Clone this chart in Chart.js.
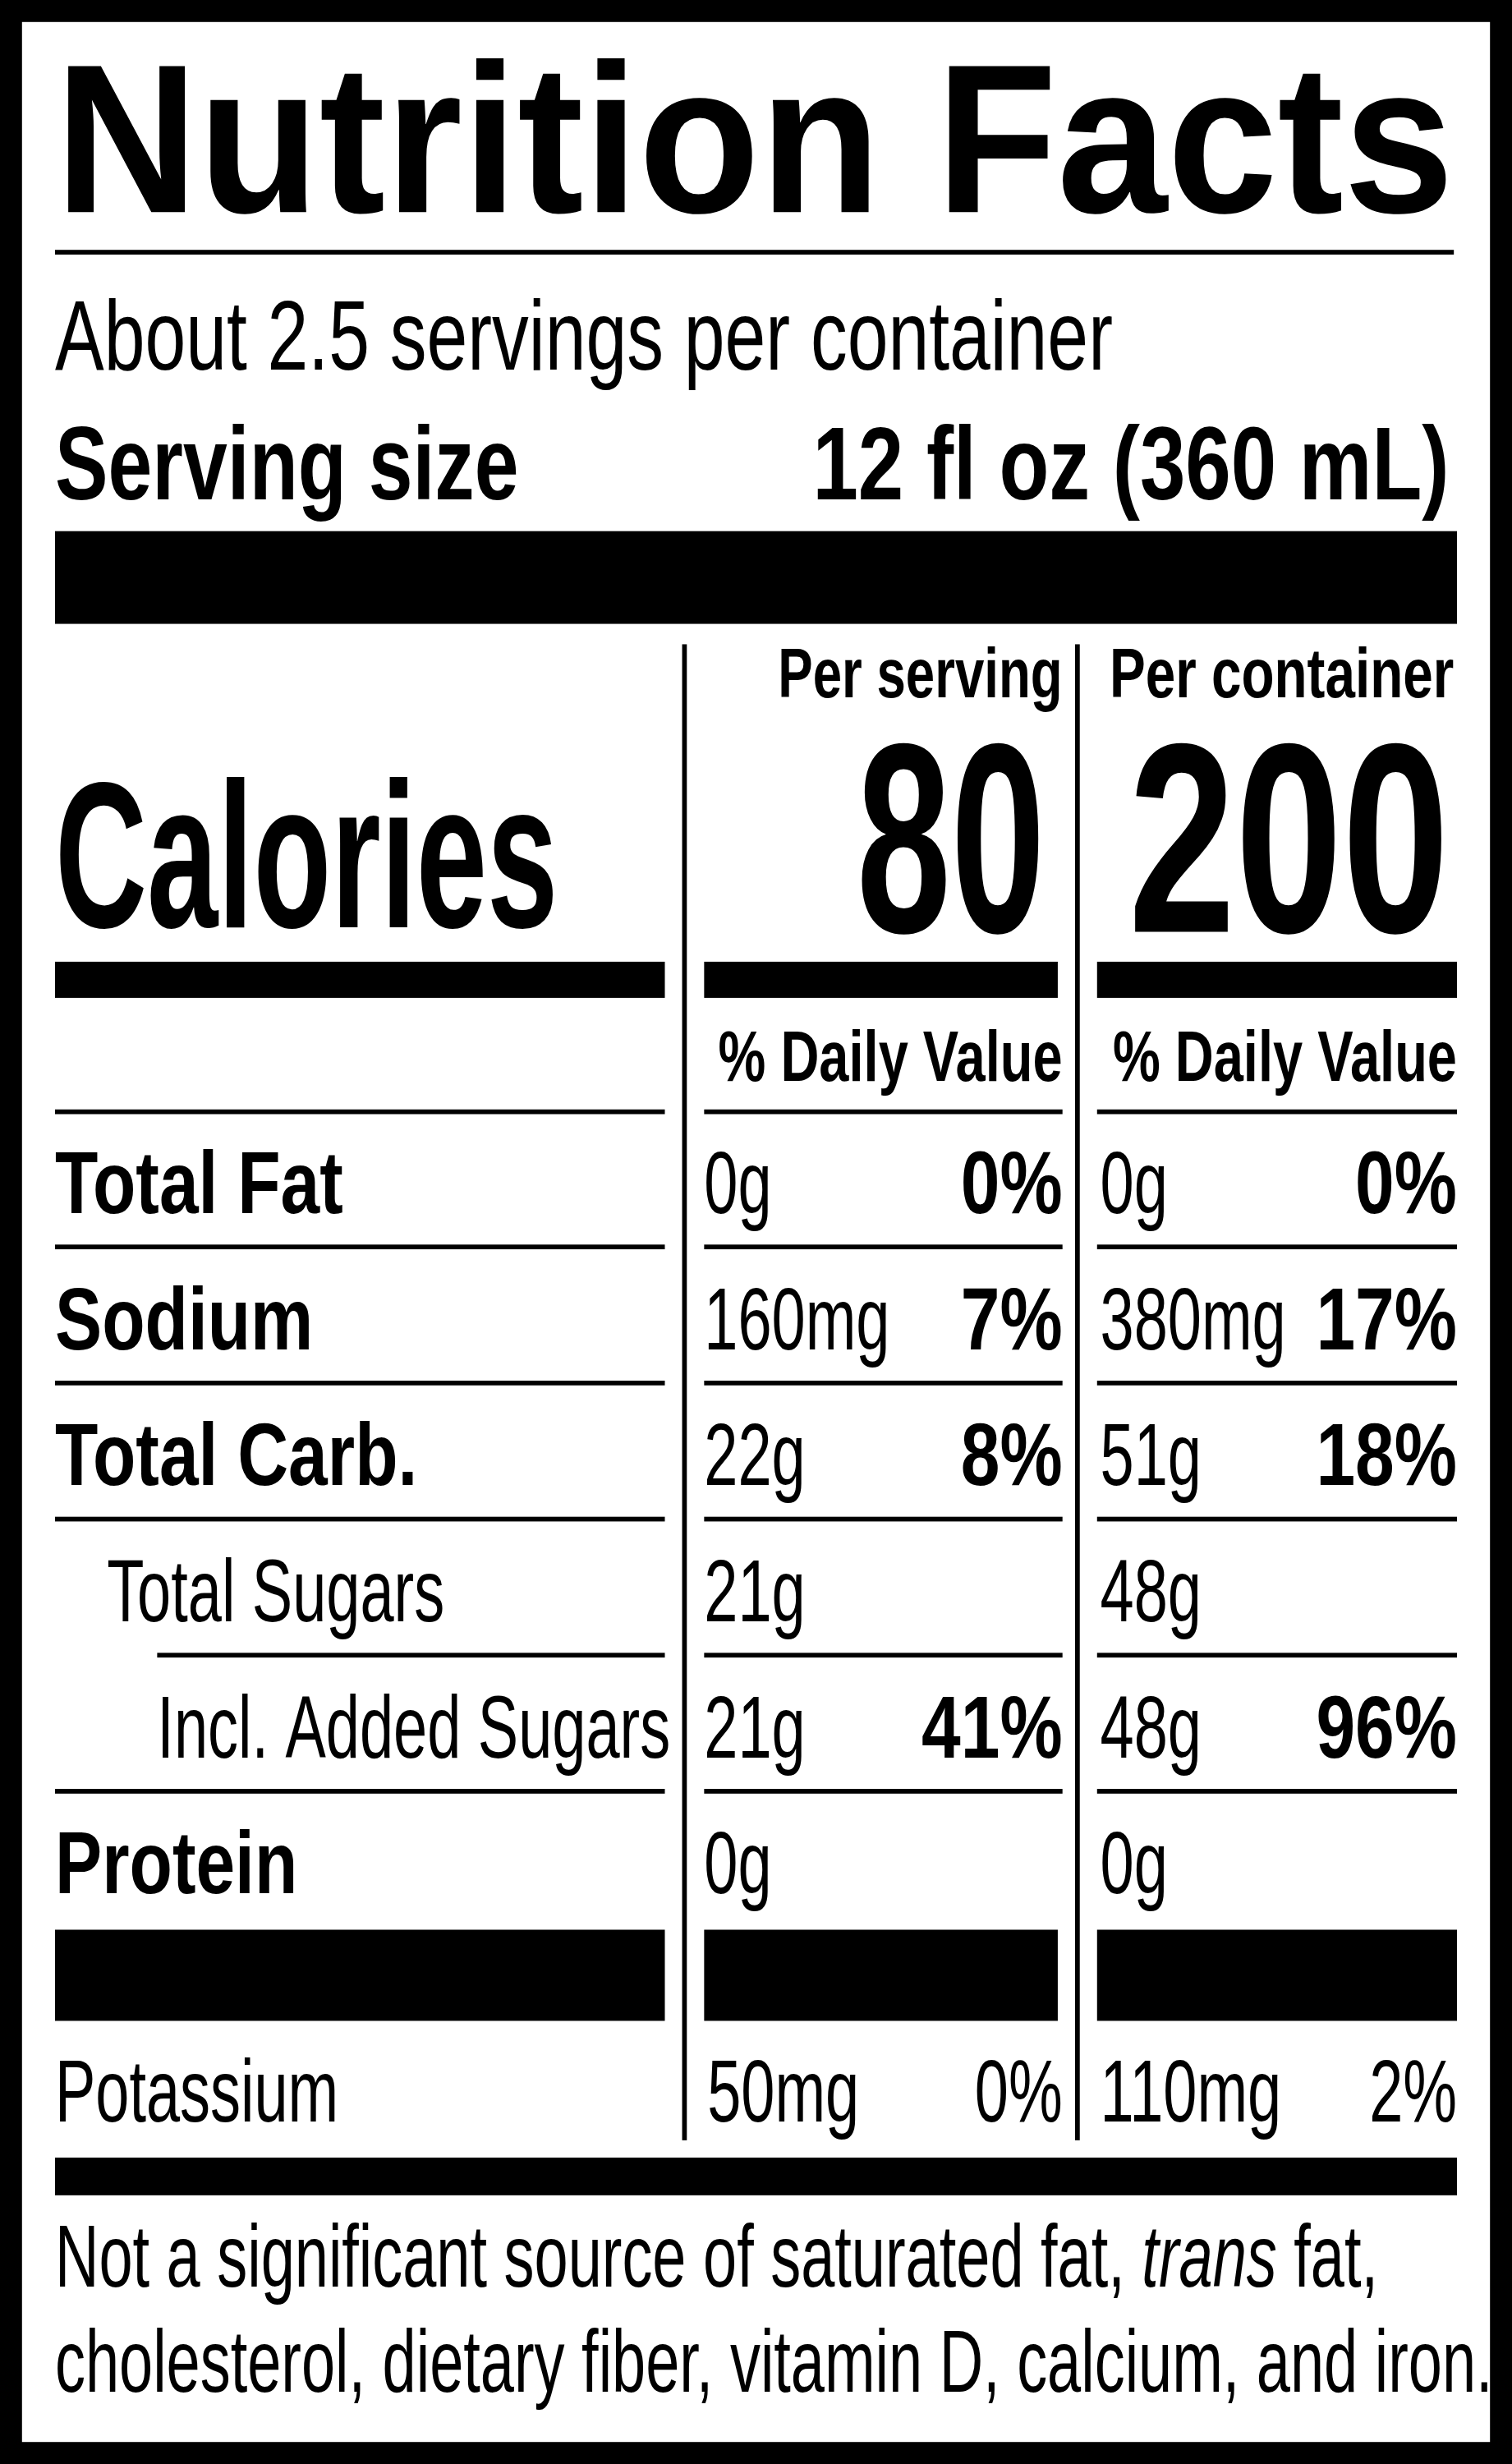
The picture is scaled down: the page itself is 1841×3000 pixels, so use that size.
<!DOCTYPE html>
<html><head><meta charset="utf-8">
<script src="https://cdn.jsdelivr.net/npm/chart.js@4.4.1/dist/chart.umd.min.js"></script>
<style>html,body{margin:0;padding:0;background:#000}canvas{display:block}</style>
</head><body>
<canvas id="label" width="1841" height="3000"></canvas>
<script>
// label contents
var nutrients = ['Total Fat', 'Sodium', 'Total Carb.', 'Total Sugars', 'Incl. Added Sugars', 'Protein'];
var nutrientBold = [true, true, true, false, false, true];
var nutrientIndent = [0, 0, 0, 1, 2, 0];
var perServingAmount = ['0g', '160mg', '22g', '21g', '21g', '0g'];
var perServingDV = ['0%', '7%', '8%', '', '41%', ''];
var perContainerAmount = ['0g', '380mg', '51g', '48g', '48g', '0g'];
var perContainerDV = ['0%', '17%', '18%', '', '96%', ''];
var potassium = ['Potassium', '50mg', '0%', '110mg', '2%'];
var calories = [80, 200];
var servingsText = 'About 2.5 servings per container';
var servingSize = '12 fl oz (360 mL)';
var footnote = ['Not a significant source of saturated fat, ', 'trans', ' fat,', 'cholesterol, dietary fiber, vitamin D, calcium, and iron.'];

var FONT = '"Liberation Sans", Arial, sans-serif';
var S = 1841 / 962;

var labelPlugin = {
    id: 'labelPlugin',
    afterDraw: function(chart) {
        var ctx = chart.ctx;
        var xs = chart.scales.x, ys = chart.scales.y;
        function X(v) { return xs.getPixelForValue(v); }
        function Y(v) { return ys.getPixelForValue(v); }
        function box(x1, y1, x2, y2, c) {
            ctx.fillStyle = c || '#000';
            ctx.fillRect(X(x1), Y(y1), X(x2) - X(x1), Y(y2) - Y(y1));
        }
        // squeeze gives condensed look; w forces exact width
        function txt(t, x, y, size, bold, align, w, italic) {
            ctx.save();
            ctx.font = (italic ? 'italic ' : '') + (bold ? 'bold ' : '') + (size * S) + 'px ' + FONT;
            var mw = ctx.measureText(t).width;
            var k = w ? (w * S) / mw : (bold ? 0.8 : 0.69);
            ctx.translate(X(x), Y(y));
            ctx.scale(k, 1);
            ctx.fillStyle = '#000';
            ctx.textBaseline = 'alphabetic';
            ctx.textAlign = align || 'left';
            ctx.fillText(t, 0, 0);
            ctx.restore();
            return mw * k / S;
        }
        box(0, 0, 962, 1568, '#000');
        box(14, 14, 948, 1554, '#fff');

        txt('Nutrition Facts', 35, 135, 135, true, 'left', 890);
        box(35, 159, 925, 162);
        txt(servingsText, 35, 235, 63, false, 'left', 673);
        txt('Serving size', 35, 318, 66, true, 'left', 295);
        txt(servingSize, 922, 318, 66, true, 'right', 405);
        box(35, 338, 927, 397);

        box(434, 410, 437, 1362);
        box(684, 410, 687, 1362);
        txt('Per serving', 676, 444, 45, true, 'right', 181);
        txt('Per container', 925, 444, 45, true, 'right', 219);
        txt('Calories', 35, 590, 132, true, 'left', 320);
        txt(String(calories[0]), 665, 593, 172, true, 'right', 120);
        txt(String(calories[1]), 922, 593, 172, true, 'right', 204);
        box(35, 612, 423, 635); box(448, 612, 673, 635); box(698, 612, 927, 635);
        txt('% Daily Value', 676, 688, 46, true, 'right', 219);
        txt('% Daily Value', 927, 688, 46, true, 'right', 219);
        box(35, 706, 423, 709); box(448, 706, 676, 709); box(698, 706, 927, 709);

        var step = 86.6;
        var indentX = [35, 68, 100];
        for (var i = 0; i < nutrients.length; i++) {
            var b = 772 + i * step;
            txt(nutrients[i], indentX[nutrientIndent[i]], b, 56, nutrientBold[i], 'left');
            txt(perServingAmount[i], 448, b, 56, false, 'left');
            if (perServingDV[i]) txt(perServingDV[i], 676, b, 56, true, 'right');
            txt(perContainerAmount[i], 700, b, 56, false, 'left');
            if (perContainerDV[i]) txt(perContainerDV[i], 927, b, 56, true, 'right');
            if (i < nutrients.length - 1) {
                var ly = b + 20;
                box(i === 3 ? 100 : 35, ly, 423, ly + 3);
                box(448, ly, 676, ly + 3);
                box(698, ly, 927, ly + 3);
            }
        }
        box(35, 1228, 423, 1286); box(448, 1228, 673, 1286); box(698, 1228, 927, 1286);
        txt(potassium[0], 35, 1350, 56, false, 'left');
        txt(potassium[1], 450, 1350, 56, false, 'left');
        txt(potassium[2], 676, 1350, 56, false, 'right');
        txt(potassium[3], 700, 1350, 56, false, 'left');
        txt(potassium[4], 927, 1350, 56, false, 'right');
        box(35, 1373, 927, 1397);

        var fx = 35;
        fx += txt(footnote[0], fx, 1455, 56, false, 'left');
        fx += txt(footnote[1], fx, 1455, 56, false, 'left', null, true);
        txt(footnote[2], fx, 1455, 56, false, 'left');
        txt(footnote[3], 35, 1522, 56, false, 'left');
    }
};

new Chart(document.getElementById('label'), {
    type: 'scatter',
    data: { datasets: [{ data: [] }] },
    options: {
        responsive: false,
        animation: false,
        devicePixelRatio: 1,
        layout: { padding: 0 },
        plugins: { legend: { display: false }, tooltip: { enabled: false } },
        scales: {
            x: { type: 'linear', min: 0, max: 962, display: false },
            y: { type: 'linear', min: 0, max: 1568, reverse: true, display: false }
        }
    },
    plugins: [labelPlugin]
});
</script>
</body></html>
